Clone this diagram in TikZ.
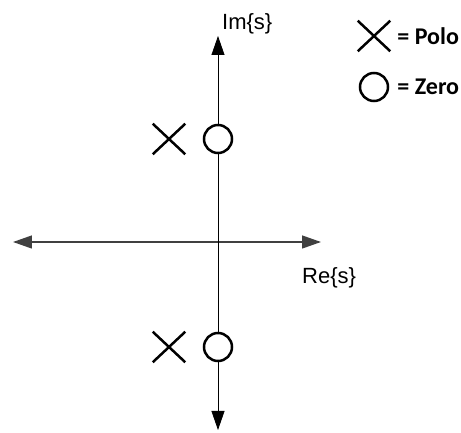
\documentclass[tikz,border=0pt]{standalone}
\usepackage{fontspec}
\setmainfont{Liberation Sans}
\newfontfamily\legendfont{Carlito}
\usetikzlibrary{shapes.misc, arrows.meta, positioning}

\tikzset{
  axis/.style={-{Triangle[length=19pt,width=13pt]}},
  pole/.style={cross out, draw, line width=2.5pt, minimum width=30pt, minimum height=28pt, inner sep=0pt},
  zero/.style={circle, draw, fill=white, line width=2.5pt, minimum size=28pt, inner sep=0pt},
  legend/.style={font=\legendfont\bfseries\fontsize{24}{24}\selectfont, anchor=west, inner sep=0pt}
}

\begin{document}
\begin{tikzpicture}[x=1pt, y=1pt, font=\fontsize{22}{22}\selectfont]
        \useasboundingbox (-218,-191) rectangle (243,242);
        % Assi
        \coordinate (O) at (0,0);
        \coordinate (imtop) at (0,206); \coordinate (imbot) at (0,-188);
        \coordinate (releft) at (-205,0); \coordinate (reright) at (103,0);
        \draw[axis, black!75, line width=1.3pt] (O) -- (releft);
        \draw[axis, black!75, line width=1.3pt] (O) -- (reright);
        \draw[axis, line width=0.8pt] (O) -- (imtop);
        \draw[axis, line width=0.8pt] (O) -- (imbot);
        \node[anchor=west, inner sep=0pt] (im) at (4,218) {Im\{s\}};
        \node[anchor=west, inner sep=0pt] (re) at (84,-36) {Re\{s\}};
        % Poli e zeri
        \node[pole] (p1) at (-49,103) {}; \node[zero] (z1) at (0,103) {};
        \node[pole] (p2) at (-49,-105) {}; \node[zero] (z2) at (0,-105) {};
        % Legenda
        \node[pole] (lp) at (156,206) {};
        \node[legend, right=7pt of lp] (lpt) {= Polo};
        \node[zero] (lz) at (156,155) {};
        \node[legend] (lzt) at (lpt.west |- lz) {= Zero};
      \end{tikzpicture}
\end{document}
